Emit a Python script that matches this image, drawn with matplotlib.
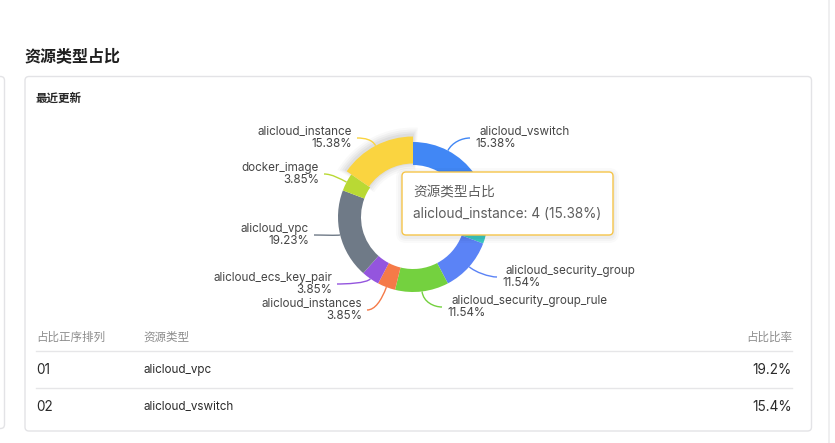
import numpy as np
import matplotlib
matplotlib.use("Agg")
import matplotlib.pyplot as plt
from matplotlib.patches import FancyBboxPatch, Wedge
from matplotlib.path import Path
from matplotlib.patches import PathPatch

plt.rcParams['font.family'] = ['Inter', 'Noto Sans CJK SC', 'DejaVu Sans']

# ---------------- data ----------------
title = "资源类型占比"
card_title = "最近更新"
tooltip_title = "资源类型占比"
categories = ['alicloud_vswitch', 'hidden_type', 'alicloud_security_group',
              'alicloud_security_group_rule', 'alicloud_instances',
              'alicloud_ecs_key_pair', 'alicloud_vpc', 'docker_image',
              'alicloud_instance']
counts = [4, 4, 3, 3, 1, 1, 5, 1, 4]
colors = ['#4187F5', '#3CC9C3', '#5B83F6', '#74D13F', '#F57A48',
          '#9455DE', '#6F7A87', '#B9D934', '#FAD440']
active = 'alicloud_instance'
table_header = ['占比正序排列', '资源类型', '占比比率']
table_rows = 2

# ---------------- layout ----------------
W, H = 835, 443
cx, cy = 413, 217
r_out, r_in = 75, 52
r_out_act, r_in_act = 80.5, 53.5
# label layout: name_y (px), line end x (px), side
label_layout = {
    'alicloud_instance': (132, 357, 'L'),
    'docker_image': (168, 324, 'L'),
    'alicloud_vpc': (229, 314, 'L'),
    'alicloud_ecs_key_pair': (278, 337, 'L'),
    'alicloud_instances': (304, 367, 'L'),
    'alicloud_vswitch': (132, 470, 'R'),
    'alicloud_security_group': (271, 497, 'R'),
    'alicloud_security_group_rule': (301, 442, 'R'),
}

fig = plt.figure(figsize=(W / 100, H / 100), dpi=100)
ax = fig.add_axes([0, 0, 1, 1])

total = sum(counts)
pcts = [c / total * 100 for c in counts]

# shadow for active wedge
ia = categories.index(active)
cum = np.cumsum([0] + counts)
th1 = -90 + 360 * cum[ia] / total
th2 = -90 + 360 * cum[ia + 1] / total
for k, a in enumerate([0.025, 0.03, 0.035, 0.04]):
    ext = 8 - 2 * k
    ax.add_patch(Wedge((cx, cy - 1), r_out_act + ext, th1 - ext * 0.4, th2 + ext * 0.4,
                       width=r_out_act - r_in_act + 2 * ext, facecolor='#000000',
                       alpha=a, linewidth=0, zorder=1))

wedges, _ = ax.pie(counts, colors=colors, startangle=-90, counterclock=True,
                   center=(cx, cy), radius=r_out,
                   wedgeprops=dict(width=r_out - r_in, linewidth=0), frame=True)
for w in wedges:
    w.set_zorder(2)
wedges[ia].set_radius(r_out_act)
wedges[ia].set_width(r_out_act - r_in_act)
wedges[ia].set_zorder(3)

ax.set_xlim(0, W)
ax.set_ylim(H, 0)
ax.set_aspect('auto')
ax.axis('off')

label_color = '#454545'
fs_lab = 8.4
for i, cat in enumerate(categories):
    if cat not in label_layout:
        continue
    name_y, ex, side = label_layout[cat]
    ly = name_y + 6
    mid = -90 + 360 * (cum[i] + counts[i] / 2) / total
    rr = r_out_act if cat == active else r_out
    d = np.array([np.cos(np.radians(mid)), np.sin(np.radians(mid))])
    A = np.array([cx, cy]) + rr * d
    k = 0.5 * abs(ly - A[1]) + 3
    P1 = A + d * k
    s = 1 if side == 'R' else -1
    P2 = np.array([ex - s * 8, ly])
    E = np.array([ex, ly])
    path = Path([A, P1, P2, E], [Path.MOVETO, Path.CURVE4, Path.CURVE4, Path.CURVE4])
    ax.add_patch(PathPatch(path, facecolor='none', edgecolor=colors[i], lw=1.0, zorder=4))
    pct_txt = f"{pcts[i]:.2f}%"
    if side == 'L':
        ax.text(ex - 5, name_y, cat, ha='right', va='center', fontsize=fs_lab, color=label_color)
        ax.text(ex - 5, name_y + 12, pct_txt, ha='right', va='center', fontsize=fs_lab, color=label_color)
    else:
        ax.text(ex + 9, name_y, cat, ha='left', va='center', fontsize=fs_lab, color=label_color)
        ax.text(ex + 5, name_y + 12, pct_txt, ha='left', va='center', fontsize=fs_lab, color=label_color)

# title & card
ax.text(24, 56, title, ha='left', va='center', fontsize=11.5, color='#1F1F1F',
        fontweight='bold', family=['Noto Sans CJK SC'])
ax.add_patch(FancyBboxPatch((25, 76.5), 786.5, 354.5, boxstyle='round,pad=0,rounding_size=4',
                            facecolor='none', edgecolor='#E3E3E6', lw=1, zorder=0))
ax.add_patch(FancyBboxPatch((-100, 76.5), 104.5, 352, boxstyle='round,pad=0,rounding_size=4',
                            facecolor='none', edgecolor='#E3E3E6', lw=1, zorder=0))
ax.plot([829, 829], [0, H], color='#ECECEE', lw=1.2, zorder=0)
ax.text(36, 98, card_title, ha='left', va='center', fontsize=8.3, color='#262626',
        fontweight='bold', family=['Noto Sans CJK SC'])

# tooltip
for k, a in enumerate([0.02, 0.025, 0.03]):
    e = 6 - 2 * k
    ax.add_patch(FancyBboxPatch((402 - e, 172 - e + 2), 211 + 2 * e, 63 + 2 * e,
                                boxstyle='round,pad=0,rounding_size=%d' % (4 + e),
                                facecolor='#000000', alpha=a, lw=0, zorder=8))
ax.add_patch(FancyBboxPatch((402, 172), 211, 63, boxstyle='round,pad=0,rounding_size=4',
                            facecolor='white', edgecolor='#F6C54A', lw=1, zorder=9))
ax.text(413, 193, tooltip_title, ha='left', va='center', fontsize=9.8, color='#5E5E5E',
        zorder=10, family=['Noto Sans CJK SC'])
ax.text(413, 214, f"{active}: {counts[ia]} ({pcts[ia]:.2f}%)", ha='left', va='center',
        fontsize=9.8, color='#5E5E5E', zorder=10)

# table
order = sorted(range(len(counts)), key=lambda j: -counts[j])[:table_rows]
hdr_color = '#8C8C8C'
ax.text(36, 337, table_header[0], ha='left', va='center', fontsize=8.3, color=hdr_color,
        family=['Noto Sans CJK SC'])
ax.text(143, 337, table_header[1], ha='left', va='center', fontsize=8.3, color=hdr_color,
        family=['Noto Sans CJK SC'])
ax.text(792, 337, table_header[2], ha='right', va='center', fontsize=8.3, color=hdr_color,
        family=['Noto Sans CJK SC'])
ax.plot([36, 792], [350.5, 350.5], color='#E6E6E8', lw=1)
row_y = [370, 407]
for n, j in enumerate(order):
    y = row_y[n]
    ax.text(36, y, f"{n + 1:02d}", ha='left', va='center', fontsize=9.8, color='#2B2B2B')
    ax.text(143, y, categories[j], ha='left', va='center', fontsize=8.4, color='#2B2B2B')
    ax.text(792, y, f"{pcts[j]:.1f}%", ha='right', va='center', fontsize=9.8, color='#2B2B2B')
    if n < table_rows - 1:
        ax.plot([36, 792], [387.5, 387.5], color='#E6E6E8', lw=1)

fig.savefig('out.png', dpi=100)
